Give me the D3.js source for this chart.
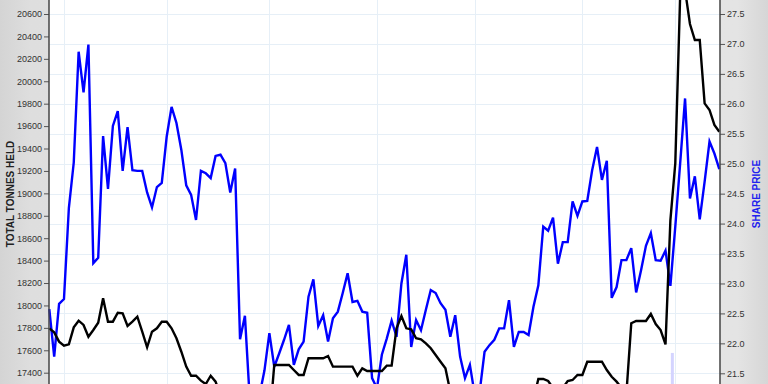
<!DOCTYPE html>
<html>
<head>
<meta charset="utf-8">
<script src="https://cdn.jsdelivr.net/npm/d3@7"></script>
<style>
  html, body { margin: 0; padding: 0; background: #e2e2e2; }
  svg { display: block; font-family: 'Liberation Sans', Arial, sans-serif; }
</style>
</head>
<body>
<div id="chart"></div>
<script>
// share price, one value per week (right axis)
const sharePrice = [
  22.57, 21.78, 22.66, 22.74, 24.26, 25.02, 26.87, 26.19, 26.99, 23.34,
  23.43, 25.46, 24.58, 25.63, 25.88, 24.88, 25.61, 24.89, 24.88, 24.88,
  24.52, 24.27, 24.61, 24.68, 25.45, 25.95, 25.68, 25.23, 24.64, 24.48,
  24.06, 24.88, 24.84, 24.76, 25.13, 25.15, 25.01, 24.52, 24.92, 22.07,
  22.46, 21.05, 20.89, 21.14, 21.55, 22.17, 21.61, 21.83, 22.06, 22.31,
  21.64, 21.90, 22.03, 22.78, 23.07, 22.29, 22.47, 22.03, 22.42, 22.53,
  22.84, 23.17, 22.69, 22.71, 22.53, 22.51, 21.42, 21.25, 21.81, 22.08,
  22.38, 22.11, 23.00, 23.48, 21.94, 22.39, 22.22, 22.56, 22.89, 22.84,
  22.67, 22.56, 22.11, 22.47, 21.78, 21.42, 21.64, 21.14, 21.19, 21.86,
  21.97, 22.06, 22.25, 22.25, 22.72, 21.94, 22.19, 22.19, 22.14, 22.61,
  22.97, 23.95, 23.88, 24.10, 23.33, 23.69, 23.69, 24.37, 24.13, 24.37,
  24.38, 24.89, 25.28, 24.73, 25.05, 22.76, 22.94, 23.39, 23.39, 23.59,
  22.85, 23.22, 23.63, 23.84, 23.39, 23.38, 23.55, 22.96, 23.95, 25.01,
  26.09, 24.42, 24.79, 24.07, 24.70, 25.37, 25.17, 24.91
];

// total tonnes held, same weeks (left axis)
const tonnesHeld = [
  17796, 17760, 17677, 17641, 17653, 17805, 17864, 17826, 17721, 17781,
  17846, 18064, 17855, 17855, 17935, 17930, 17817, 17855, 17900, 17766,
  17627, 17766, 17796, 17855, 17855, 17796, 17707, 17587, 17454, 17373,
  17373, 17329, 17299, 17373, 17320, 17201, 17150, 17100, 17080, 17050,
  17030, 17000, 17000, 16990, 17000, 16951, 17469, 17469, 17469, 17469,
  17424, 17380, 17380, 17529, 17529, 17529, 17529, 17549, 17454, 17454,
  17454, 17454, 17454, 17373, 17439, 17415, 17415, 17415, 17415, 17463,
  17463, 17796, 17906, 17796, 17787, 17707, 17698, 17662, 17618, 17558,
  17498, 17439, 17230, 17150, 17100, 17080, 17080, 17060, 17060, 17080,
  17100, 17100, 17120, 17120, 17140, 17140, 17150, 17150, 17150, 17160,
  17344, 17344, 17326, 17264, 17246, 17264, 17326, 17335, 17380, 17380,
  17498, 17498, 17498, 17498, 17424, 17364, 17320, 17264, 17210, 17841,
  17861, 17861, 17861, 17924, 17834, 17781, 17653, 18762, 19268, 20770,
  20814, 20511, 20368, 20368, 19803, 19744, 19610, 19550
];

const tonneTicks = d3.range(17400, 20601, 200);
const priceTicks = d3.range(21.5, 27.51, 0.5);
const dateGridIdx = [3, 24, 45, 67, 87, 109, 128];
const markerIdx = [127.4];
const markerPrice = [21.84];

const Width = 768;
const Height = 384;
const Plot = { Left: 49, Right: 720, Top: 0, Bottom: 384 };

const svg = d3.select('#chart')
  .append('svg')
  .attr('width', Width)
  .attr('height', Height);

const defs = svg.append('defs');
const bg = defs.append('linearGradient').attr('id', 'bg');
[['0%', '#d4d4d4'], ['4%', '#dedede'], ['50%', '#e2e2e2'], ['96%', '#e4e4e4'], ['100%', '#d6d6d6']]
  .forEach(([o, c]) => bg.append('stop').attr('offset', o).attr('stop-color', c));

svg.append('rect')
  .attr('width', Width).attr('height', Height)
  .attr('fill', 'url(#bg)');

svg.append('rect')
  .attr('x', Plot.Left).attr('y', Plot.Top)
  .attr('width', Plot.Right - Plot.Left).attr('height', Plot.Bottom - Plot.Top)
  .attr('fill', '#fff');

const x = d3.scaleLinear()
  .domain([0, sharePrice.length - 1])
  .range([49.3, 719.3]);

const yLeft = d3.scaleLinear()
  .domain([17400, 20600])
  .range([372.7, 14]);

const yRight = d3.scaleLinear()
  .domain([21.5, 27.5])
  .range([373.3, 14]);

// grid
svg.append('g')
  .selectAll('line')
  .data(priceTicks)
  .enter()
  .append('line')
  .attr('x1', Plot.Left).attr('x2', Plot.Right)
  .attr('y1', d => Math.round(yRight(d)) + 0.5)
  .attr('y2', d => Math.round(yRight(d)) + 0.5)
  .attr('stroke', '#e6eff7');

svg.append('g')
  .selectAll('line')
  .data(dateGridIdx)
  .enter()
  .append('line')
  .attr('x1', d => Math.round(x(d)) + 0.5)
  .attr('x2', d => Math.round(x(d)) + 0.5)
  .attr('y1', Plot.Top).attr('y2', Plot.Bottom)
  .attr('stroke', '#e6eff7');

// marker bar
svg.append('g')
  .selectAll('rect')
  .data(markerIdx)
  .enter()
  .append('rect')
  .attr('x', d => x(d) - 1.5)
  .attr('y', (d, i) => yRight(markerPrice[i]))
  .attr('width', 3)
  .attr('height', (d, i) => Plot.Bottom - yRight(markerPrice[i]))
  .attr('fill', '#d4d4ff');

const priceLine = d3.line()
  .x((d, i) => x(i))
  .y(d => yRight(d));

const tonneLine = d3.line()
  .x((d, i) => x(i))
  .y(d => yLeft(d));

svg.append('path')
  .datum(sharePrice)
  .attr('d', priceLine)
  .attr('fill', 'none')
  .attr('stroke', '#0000ff')
  .attr('stroke-width', 2.4)
  .attr('stroke-linejoin', 'miter');

svg.append('path')
  .datum(tonnesHeld)
  .attr('d', tonneLine)
  .attr('fill', 'none')
  .attr('stroke', '#000')
  .attr('stroke-width', 2.4)
  .attr('stroke-linejoin', 'miter');

// axes
const leftAxis = svg.append('g')
  .attr('transform', `translate(${Plot.Left}, 0)`)
  .call(d3.axisLeft(yLeft).tickValues(tonneTicks).tickSize(5).tickPadding(2).tickFormat(d3.format('d')));

const rightAxis = svg.append('g')
  .attr('transform', `translate(${Plot.Right}, 0)`)
  .call(d3.axisRight(yRight).tickValues(priceTicks).tickSize(5).tickPadding(2).tickFormat(d3.format('.1f')));

[leftAxis, rightAxis].forEach(a => {
  a.select('.domain').remove();
  a.selectAll('.tick line').attr('stroke', '#555');
  a.selectAll('.tick text')
    .attr('fill', '#333')
    .style('font-size', '9px')
    .style('font-family', "'Liberation Sans', Arial, sans-serif");
});

svg.append('line')
  .attr('x1', Plot.Left).attr('x2', Plot.Left)
  .attr('y1', Plot.Top).attr('y2', Plot.Bottom)
  .attr('stroke', '#444').attr('stroke-width', 1.5);

svg.append('line')
  .attr('x1', Plot.Right).attr('x2', Plot.Right)
  .attr('y1', Plot.Top).attr('y2', Plot.Bottom)
  .attr('stroke', '#444').attr('stroke-width', 1.5);

svg.append('text')
  .attr('transform', 'translate(14, 194) rotate(-90)')
  .attr('text-anchor', 'middle')
  .attr('fill', '#222')
  .style('font-size', '10px')
  .style('font-weight', 'bold')
  .text('TOTAL TONNES HELD');

svg.append('text')
  .attr('transform', 'translate(760, 194) rotate(-90)')
  .attr('text-anchor', 'middle')
  .attr('fill', '#2222ee')
  .style('font-size', '10px')
  .style('font-weight', 'bold')
  .text('SHARE PRICE');
</script>
</body>
</html>
